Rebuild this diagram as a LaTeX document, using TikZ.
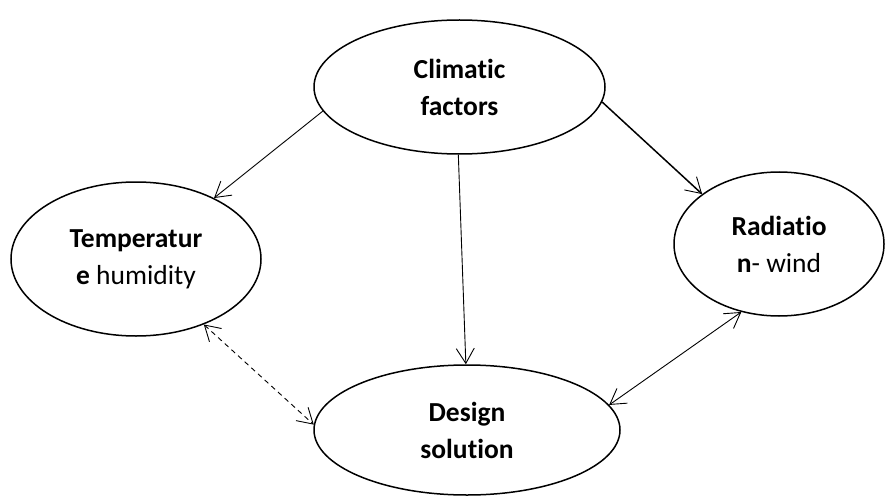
\documentclass[tikz,border=0pt]{standalone}
\usepackage{fontspec}
\setmainfont{Carlito}[Ligatures=NoCommon]
\usetikzlibrary{arrows.meta,shapes.geometric}
\begin{document}
\begin{tikzpicture}[x=1pt,y=-1pt,
  bubble/.style={ellipse,draw,line width=1.5pt,inner sep=0pt,align=center,
    font=\fontsize{27.5}{37}\selectfont},
  link/.style={line width=0.9pt,-{Straight Barb[length=15pt,width=18pt,line width=0.9pt]}},
  twoway/.style={line width=0.9pt,{Straight Barb[length=15pt,width=18pt,line width=0.9pt]}-{Straight Barb[length=15pt,width=18pt,line width=0.9pt]}}]
\useasboundingbox (0,0) rectangle (885,497);
\node[bubble,minimum width=291pt,minimum height=134pt] (C) at (459.5,87) {\textbf{Climatic}\\\textbf{factors}};
\node[bubble,minimum width=250pt,minimum height=154pt] (T) at (136,259) {\textbf{Temperatur}\\\textbf{e} humidity};
\node[bubble,minimum width=210pt,minimum height=144pt] (R) at (779,244) {\textbf{Radiatio}\\\textbf{n}- wind};
\node[bubble,minimum width=306pt,minimum height=130pt] (D) at (467,430) {\textbf{Design}\\\textbf{solution}};

\draw[link] (C.190) -- (T.38);
\draw[link] (C.269) -- (D.91);
\draw[link,line width=1.5pt] (C.-6.5) -- (R.147);
\draw[twoway] (D.10.7) -- (R.241);
\draw[twoway,dash pattern=on 5pt off 4pt] (T.-44) -- (D.178);
\end{tikzpicture}
\end{document}
